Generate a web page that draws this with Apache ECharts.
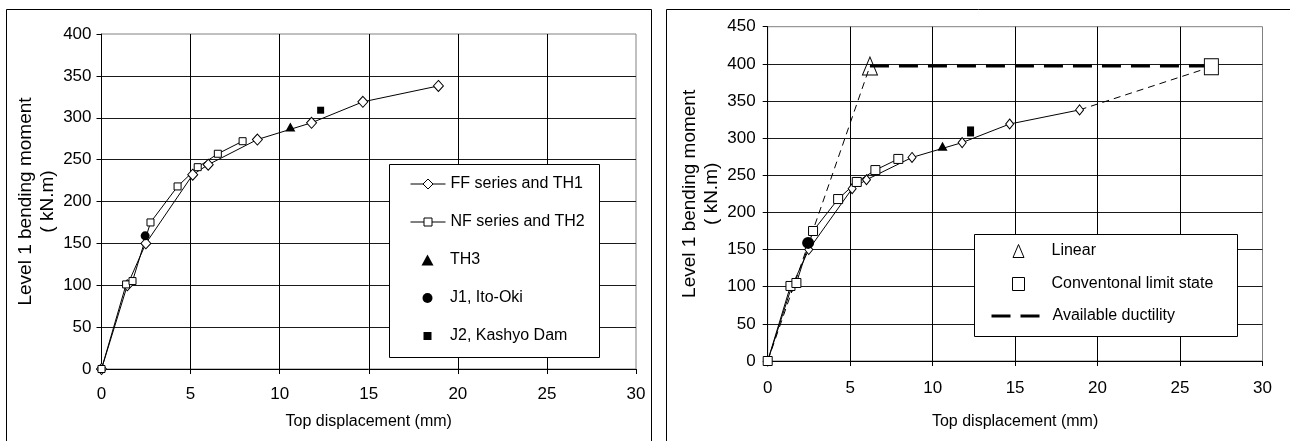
<!DOCTYPE html>
<html><head><meta charset="utf-8">
<script src="https://cdn.jsdelivr.net/npm/echarts@6/dist/echarts.min.js"></script>
<style>html,body{margin:0;padding:0;background:#fff}#c{width:1290px;height:441px}</style>
</head><body><div id="c"></div>
<script>
// ---------- data ----------
const ffX = [0, 1.45, 2.49, 5.12, 5.99, 8.75, 11.79, 14.67, 18.91];
const ffY = [0, 100, 150, 232, 244, 274, 294, 319, 338];
const nfX = [0, 1.38, 1.74, 2.75, 4.27, 5.40, 6.53, 7.92];
const nfY = [0, 101, 105, 175, 218, 241, 257, 272];
const th3X = [10.6];  const th3Y = [289];
const j1X = [2.45];   const j1Y = [159];
const j2X = [12.3];   const j2Y = [309];
const linearX = [6.2];  const linearY = [397];
const clsX = [26.9];    const clsY = [396];
const ductX = [6.2, 26.9]; const ductY = [397, 397];
const xMin = 0, xMax = 30, xStep = 5;
const leftYMax = 400, rightYMax = 450, yStep = 50;
const leftNames = ['FF series and TH1', 'NF series and TH2', 'TH3', 'J1, Ito-Oki', 'J2, Kashyo Dam'];
const rightNames = ['Linear', 'Conventonal limit state', 'Available ductility'];
const xTitle = 'Top displacement (mm)';
const yTitle = 'Level 1 bending moment\n( kN.m)';

// ---------- helpers ----------
const FONT = '"Liberation Sans", Arial, sans-serif';
const zip = (xs, ys) => xs.map((x, i) => [x, ys[i]]);
const openSym = { color: '#fff', borderColor: '#000', borderWidth: 1, opacity: 1 };
const fillSym = { color: '#000', borderColor: '#000', borderWidth: 0, opacity: 1 };

function xAx(gi, labelMargin, nameGap) {
  return {
    gridIndex: gi, type: 'value', min: xMin, max: xMax, interval: xStep,
    axisLine: { show: true, onZero: false, lineStyle: { color: '#000', width: 1 } },
    axisTick: { show: true, length: 5, lineStyle: { color: '#000' } },
    axisLabel: { fontFamily: FONT, fontSize: 17, color: '#000', margin: labelMargin },
    splitLine: { show: true, showMinLine: false, showMaxLine: false, lineStyle: { color: '#000', width: 1 } },
    name: xTitle, nameLocation: 'middle', nameGap: nameGap,
    nameTextStyle: { fontFamily: FONT, fontSize: 16, color: '#000' }
  };
}
function yAx(gi, max, labelMargin, nameGap) {
  return {
    gridIndex: gi, type: 'value', min: 0, max: max, interval: yStep,
    axisLine: { show: true, onZero: false, lineStyle: { color: '#000', width: 1 } },
    axisTick: { show: true, length: 5, lineStyle: { color: '#000' } },
    axisLabel: { fontFamily: FONT, fontSize: 17, color: '#000', margin: labelMargin },
    splitLine: { show: true, showMinLine: false, showMaxLine: false, lineStyle: { color: '#1a1a1a', width: 1 } },
    name: yTitle, nameLocation: 'middle', nameRotate: 90, nameGap: nameGap,
    nameTextStyle: { fontFamily: FONT, fontSize: 19, lineHeight: 22, color: '#000' }
  };
}
// one legend entry: icon centred at cx, text starting at textX
function legendOne(name, cx, centerY, iw, ih, textX, extra) {
  const left = cx - iw / 2;
  const pad = Math.max(0, textX - (left + iw + 5));
  return Object.assign({
    show: true, orient: 'vertical', left: left, top: centerY - 7, padding: 0, itemGap: 0,
    itemWidth: iw, itemHeight: ih, selectedMode: false, z: 20,
    data: [name],
    textStyle: { fontFamily: FONT, fontSize: 16, lineHeight: 16, color: '#000', padding: [0, 0, 0, pad] },
    itemStyle: { borderWidth: 1 },
    lineStyle: { width: 1 }
  }, extra || {});
}
function lineS(name, gi, xs, ys, sym, size) {
  return { name: name, type: 'line', xAxisIndex: gi, yAxisIndex: gi, data: zip(xs, ys),
    symbol: sym, symbolSize: size, showSymbol: true, itemStyle: openSym,
    lineStyle: { color: '#000', width: 1 }, z: 3 };
}
function scat(name, gi, xs, ys, sym, size, style, z) {
  return { name: name, type: 'scatter', xAxisIndex: gi, yAxisIndex: gi, data: zip(xs, ys),
    symbol: sym, symbolSize: size, itemStyle: style, z: z || 4 };
}

const series = [
  // left chart
  lineS(leftNames[0], 0, ffX, ffY, 'diamond', [10, 11]),
  lineS(leftNames[1], 0, nfX, nfY, 'rect', 7),
  scat(leftNames[2], 0, th3X, th3Y, 'triangle', [10, 9], fillSym),
  scat(leftNames[3], 0, j1X, j1Y, 'circle', 9, fillSym),
  scat(leftNames[4], 0, j2X, j2Y, 'rect', 7, fillSym),
  // right chart
  { name: 'linear-line', type: 'line', xAxisIndex: 1, yAxisIndex: 1,
    data: [[0, 0], [linearX[0], linearY[0]]], symbol: 'none',
    lineStyle: { color: '#000', width: 1, type: [7, 5] }, z: 2 },
  { name: 'ff-extension', type: 'line', xAxisIndex: 1, yAxisIndex: 1,
    data: [[ffX[ffX.length - 1], ffY[ffY.length - 1]], [clsX[0], clsY[0]]], symbol: 'none',
    lineStyle: { color: '#000', width: 1, type: [7, 5] }, z: 2 },
  lineS('FF right', 1, ffX, ffY, 'diamond', [8, 10]),
  lineS('NF right', 1, nfX, nfY, 'rect', 9),
  scat('TH3 right', 1, th3X, th3Y, 'triangle', [10, 9], fillSym),
  scat('J1 right', 1, j1X, j1Y, 'circle', 12, fillSym),
  scat('J2 right', 1, j2X, j2Y, 'rect', [7, 10], fillSym),
  { name: rightNames[2], type: 'line', xAxisIndex: 1, yAxisIndex: 1, data: zip(ductX, ductY),
    symbol: 'none', itemStyle: { color: '#000' },
    lineStyle: { color: '#000', width: 3, type: [19, 10] }, z: 5 },
  scat(rightNames[0], 1, linearX, linearY, 'triangle', [15, 18],
    { color: 'rgba(255,255,255,0)', borderColor: '#000', borderWidth: 1, opacity: 1 }, 6),
  scat(rightNames[1], 1, clsX, clsY, 'rect', [14, 16], openSym, 6)
];

const legends = [
  legendOne(leftNames[0], 427.5, 183, 35, 12.5, 450),
  legendOne(leftNames[1], 427.5, 221, 35, 10, 450),
  legendOne(leftNames[2], 427.5, 259, 12, 11, 450, { itemStyle: { borderWidth: 0 } }),
  legendOne(leftNames[3], 427.5, 297, 10, 10, 450, { itemStyle: { borderWidth: 0 } }),
  legendOne(leftNames[4], 427.5, 335, 8, 8, 450, { itemStyle: { borderWidth: 0 } }),
  legendOne(rightNames[0], 1018, 250, 11, 13, 1051),
  legendOne(rightNames[1], 1018, 283, 12, 13, 1051),
  legendOne(rightNames[2], 1018, 315, 56, 14, 1051, {
    data: [{ name: rightNames[2], itemStyle: { opacity: 0 } }],
    lineStyle: { width: 3 } })
];

const option = {
  animation: false,
  backgroundColor: '#fff',
  textStyle: { fontFamily: FONT },
  grid: [
    { left: 101.5, top: 34, width: 534.5, height: 335, show: true, borderColor: '#808080', borderWidth: 1, backgroundColor: 'rgba(0,0,0,0)', containLabel: false },
    { left: 767.7, top: 26.7, width: 494.8, height: 334.3, show: true, borderColor: '#808080', borderWidth: 1, backgroundColor: 'rgba(0,0,0,0)', containLabel: false }
  ],
  xAxis: [xAx(0, 17, 45), xAx(1, 19, 53)],
  yAxis: [yAx(0, leftYMax, 10, 43), yAx(1, rightYMax, 12, 45)],
  legend: legends,
  graphic: [
    { type: 'rect', shape: { x: 6.5, y: 9.5, width: 645, height: 500 }, style: { fill: 'none', stroke: '#000', lineWidth: 1 }, z: 1, silent: true },
    { type: 'rect', shape: { x: 666.5, y: 9.5, width: 700, height: 500 }, style: { fill: 'none', stroke: '#000', lineWidth: 1 }, z: 1, silent: true },
    { type: 'rect', shape: { x: 389.5, y: 164.5, width: 210, height: 193 }, style: { fill: '#fff', stroke: '#000', lineWidth: 1 }, z: 10, silent: true },
    { type: 'rect', shape: { x: 974.5, y: 234.5, width: 263, height: 102 }, style: { fill: '#fff', stroke: '#000', lineWidth: 1 }, z: 10, silent: true }
  ],
  series: series
};

const chart = echarts.init(document.getElementById('c'), null, { renderer: 'canvas' });
chart.setOption(option);
</script>
</body></html>
